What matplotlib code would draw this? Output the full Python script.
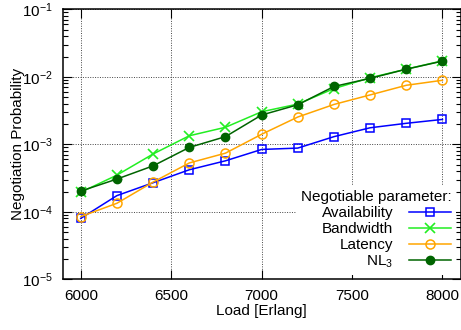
import numpy as np
import matplotlib
matplotlib.use("Agg")
import matplotlib.pyplot as plt
from matplotlib.ticker import LogLocator, FixedLocator, FuncFormatter, NullFormatter

plt.rcParams["font.family"] = ["Liberation Sans", "DejaVu Sans"]
plt.rcParams["mathtext.fontset"] = "custom"
plt.rcParams["mathtext.rm"] = "Liberation Sans"
plt.rcParams["mathtext.it"] = "Liberation Sans"
plt.rcParams["axes.unicode_minus"] = False

# load [Erlang]
load = [6000, 6200, 6400, 6600, 6800, 7000, 7200, 7400, 7600, 7800, 8000]

availability = [8.0e-5, 1.74e-4, 2.7e-4, 4.2e-4, 5.7e-4, 8.4e-4, 8.8e-4, 1.30e-3, 1.76e-3, 2.05e-3, 2.34e-3]
bandwidth = [1.95e-4, 3.5e-4, 7.2e-4, 1.34e-3, 1.79e-3, 3.04e-3, 3.95e-3, 6.7e-3, 9.7e-3, 1.30e-2, 1.73e-2]
latency = [8.5e-5, 1.34e-4, 2.76e-4, 5.3e-4, 7.4e-4, 1.41e-3, 2.54e-3, 3.9e-3, 5.4e-3, 7.5e-3, 8.9e-3]
nl3 = [2.03e-4, 3.06e-4, 4.8e-4, 9.0e-4, 1.30e-3, 2.72e-3, 3.86e-3, 7.2e-3, 9.5e-3, 1.30e-2, 1.71e-2]

fig = plt.figure(figsize=(4.61, 3.30), dpi=100)
ax = fig.add_axes([0.136, 0.1536, 0.863, 0.818])

fs = 11
ax.plot(load, availability, color="#0000ff", lw=1.1, marker="s", ms=6,
        mfc="none", mew=1.1, label="Availability")
ax.plot(load, bandwidth, color="#22ee22", lw=1.1, marker="x", ms=7,
        mew=1.2, label="Bandwidth")
ax.plot(load, latency, color="#ffa500", lw=1.1, marker="o", ms=6.5,
        mfc="none", mew=1.1, label="Latency")
ax.plot(load, nl3, color="#006400", lw=1.1, marker="o", ms=6,
        label="NL$_3$")

ax.set_yscale("log")
ax.set_xlim(5900, 8100)
ax.set_ylim(1e-5, 1e-1)

ax.xaxis.set_major_locator(FixedLocator([6000, 6500, 7000, 7500, 8000]))
ax.yaxis.set_major_locator(LogLocator(base=10, numticks=10))
ax.yaxis.set_minor_locator(LogLocator(base=10, subs=np.arange(2, 10), numticks=20))
ax.yaxis.set_minor_formatter(NullFormatter())
ax.yaxis.set_major_formatter(FuncFormatter(
    lambda v, p: "10$^{\\mathregular{%d}}$" % int(round(np.log10(v)))))

ax.tick_params(which="both", direction="in", top=True, right=True, labelsize=fs)
ax.tick_params(which="major", length=6.5, width=0.8, pad=7)
ax.tick_params(which="minor", length=3.5, width=0.8)
for s in ax.spines.values():
    s.set_linewidth(1.1)

ax.grid(True, which="major", color="#444444", ls=(0, (1, 1.5)), lw=0.7)
ax.set_axisbelow(True)

ax.set_xlabel("Load [Erlang]", fontsize=fs, labelpad=1)
ax.set_ylabel("Negotiation Probability", fontsize=fs)
ax.yaxis.set_label_coords(-0.095, 0.5)

leg = ax.legend(loc="lower right", markerfirst=False, fontsize=fs,
                title="Negotiable parameter:", title_fontsize=fs,
                alignment="right", frameon=True, facecolor="white",
                edgecolor="none", framealpha=1, fancybox=False,
                borderaxespad=0.3, handlelength=2.8, handletextpad=1.0,
                labelspacing=0.12, borderpad=0.3)

fig.savefig("out.png", dpi=100)
